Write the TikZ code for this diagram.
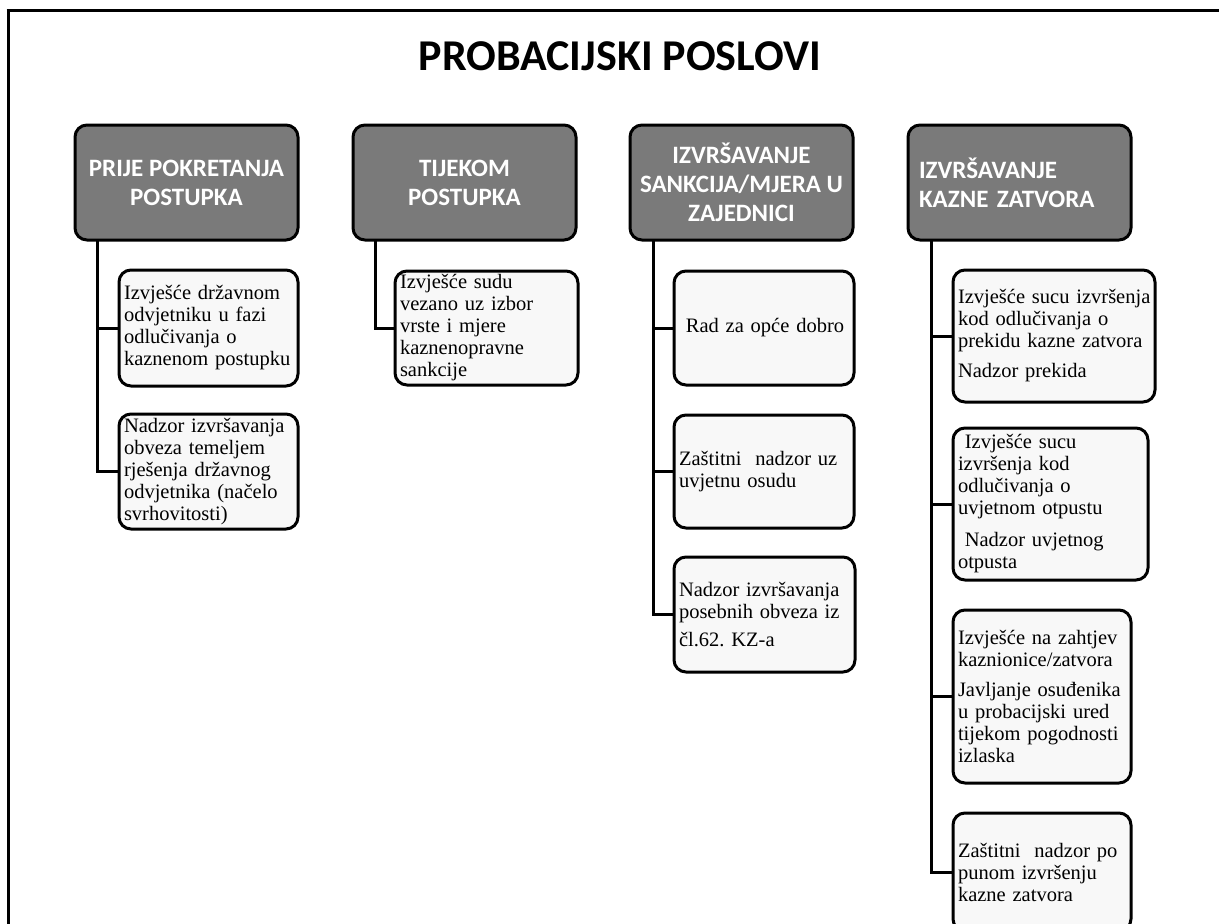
\documentclass[tikz,border=0pt]{standalone}
\usepackage{fontspec}
\usepackage{tikz}
\setmainfont{Liberation Serif}
\newfontfamily\headfont{Carlito}
\usetikzlibrary{positioning}
\definecolor{headgray}{HTML}{7A7A7A}
\definecolor{itemfill}{HTML}{F8F8F8}

\begin{document}
\begin{tikzpicture}[x=1pt,y=-1pt]
        % Define styles
        \tikzstyle{head} = [rectangle, rounded corners=12pt, outer sep=0pt, minimum width=223pt, minimum height=115pt, align=center, draw=black, fill=headgray, line width=3pt, text=white, font=\headfont\bfseries\fontsize{25}{29}\selectfont]
        \tikzstyle{item} = [rectangle, rounded corners=12pt, outer sep=0pt, inner xsep=5pt, inner ysep=2pt, align=left, draw=black, fill=itemfill, line width=3pt, font=\fontsize{20.5}{22}\selectfont]
        \tikzstyle{link} = [line width=3pt]

        \useasboundingbox (0,0) rectangle (1219,924);
        % Frame (left and top only)
        \draw[link] (8,924) -- (8,8.5);
        \draw[link] (6.5,10) -- (1219,10);

        % Title
        \node (title) at (620,56) {\headfont\bfseries\fontsize{44}{50}\selectfont PROBACIJSKI POSLOVI};

        % Headers
        \node (h1) [head, anchor=north west] at (75,125) {PRIJE POKRETANJA\\POSTUPKA};
        \node (h2) [head, right=55pt of h1] {TIJEKOM\\POSTUPKA};
        \node (h3) [head, right=54pt of h2] {IZVRŠAVANJE\\SANKCIJA/MJERA U\\ZAJEDNICI};
        \node (h4) [head, right=55pt of h3, text width=201pt, inner xsep=11pt, align=left] {IZVRŠAVANJE\\KAZNE ZATVORA};

        % Column 1
        \node (c11) [item, below right=30pt and 44pt of h1.south west, text width=169pt, minimum height=116pt] {Izvješće državnom\\odvjetniku u fazi\\odlučivanja o\\kaznenom postupku};
        \node (c12) [item, below=28pt of c11.south west, anchor=north west, text width=169pt, minimum height=115pt] {Nadzor izvršavanja\\obveza temeljem\\rješenja državnog\\odvjetnika (načelo\\svrhovitosti)};

        % Column 2
        \node (c21) [item, below right=31pt and 42pt of h2.south west, text width=173pt, minimum height=114pt] {Izvješće sudu\\vezano uz izbor\\vrste i mjere\\kaznenopravne\\sankcije};

        % Column 3
        \node (c31) [item, below right=31pt and 44pt of h3.south west, text width=170pt, minimum height=114pt] {\ Rad za opće dobro};
        \node (c32) [item, below=30pt of c31.south west, anchor=north west, text width=170pt, minimum height=113pt] {Zaštitni\ \ nadzor uz\\uvjetnu osudu};
        \node (c33) [item, below=29pt of c32.south west, anchor=north west, text width=171pt, minimum height=115pt] {Nadzor izvršavanja\\posebnih obveza iz\\[6pt]čl.62.\ KZ-a};

        % Column 4
        \node (c41) [item, below right=30pt and 45pt of h4.south west, text width=192pt, minimum height=132pt] {\mbox{Izvješće sucu izvršenja}\\kod odlučivanja o\\prekidu kazne zatvora\\[8pt]Nadzor prekida};
        \node (c42) [item, below=26pt of c41.south west, anchor=north west, text width=185pt, minimum height=152pt] {\ Izvješće sucu\\izvršenja kod\\odlučivanja o\\uvjetnom otpustu\\[10pt]\ Nadzor uvjetnog\\otpusta};
        \node (c43) [item, below=30pt of c42.south west, anchor=north west, text width=168pt, minimum height=173pt] {Izvješće na zahtjev\\kaznionice/zatvora\\[8pt]Javljanje osuđenika\\u probacijski ured\\tijekom pogodnosti\\izlaska};
        \node (c44) [item, below=30pt of c43.south west, anchor=north west, text width=168pt, minimum height=118pt] {Zaštitni\ \ nadzor po\\punom izvršenju\\kazne zatvora};

        % Connectors
        \draw[link] ([xshift=22pt]h1.south west) |- (c11.west);
        \draw[link] ([xshift=22pt]h1.south west) |- (c12.west);
        \draw[link] ([xshift=22pt]h2.south west) |- (c21.west);
        \foreach \c in {c31,c32,c33}
          \draw[link] ([xshift=23pt]h3.south west) |- (\c.west);
        \foreach \c in {c41,c42,c43,c44}
          \draw[link] ([xshift=23pt]h4.south west) |- (\c.west);

    \end{tikzpicture}
\end{document}
